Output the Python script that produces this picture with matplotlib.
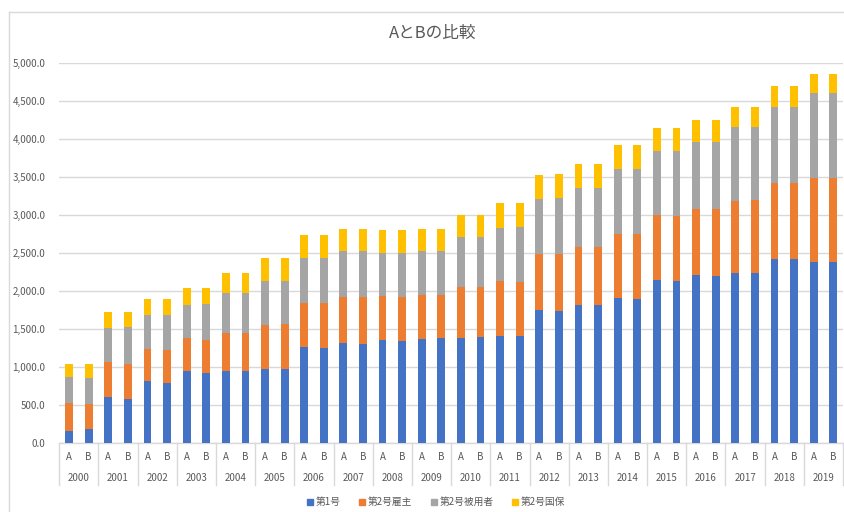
import matplotlib.pyplot as plt
import numpy as np
from matplotlib.lines import Line2D
from matplotlib.ticker import FuncFormatter

plt.rcParams['font.family'] = ['Noto Sans CJK JP', 'DejaVu Sans']

years = [str(y) for y in range(2000, 2020)]
groups = ['A', 'B']

# 各年 A, B の順
dai1 = [162, 184, 609, 583, 820, 798, 951, 925, 951, 951,
        973, 973, 1264, 1251, 1321, 1312, 1361, 1347, 1369, 1382,
        1382, 1396, 1417, 1409, 1750, 1740, 1818, 1818, 1908, 1895,
        2154, 2140, 2211, 2202, 2237, 2237, 2425, 2425, 2390, 2390]
koyo = [364, 333, 461, 460, 421, 434, 439, 439, 505, 505,
        579, 592, 578, 591, 600, 609, 577, 574, 578, 565,
        670, 656, 718, 717, 739, 752, 767, 767, 851, 864,
        850, 856, 872, 881, 952, 969, 1000, 1000, 1106, 1106]
hiyo = [351, 338, 451, 487, 443, 452, 430, 474, 522, 522,
        588, 575, 590, 590, 603, 603, 560, 577, 577, 577,
        660, 660, 704, 726, 731, 732, 770, 770, 846, 846,
        838, 846, 886, 886, 969, 952, 1000, 1000, 1109, 1109]
kokuho = [166, 188, 207, 198, 211, 211, 224, 206, 267, 267,
          295, 295, 315, 315, 302, 302, 306, 306, 293, 293,
          294, 294, 320, 307, 315, 316, 325, 325, 316, 316,
          303, 303, 281, 281, 267, 267, 277, 277, 255, 255]

series = [('第1号', dai1, '#4472C4'),
          ('第2号雇主', koyo, '#ED7D31'),
          ('第2号被用者', hiyo, '#A5A5A5'),
          ('第2号国保', kokuho, '#FFC000')]

grid_c = '#D9D9D9'
text_c = '#595959'

fig = plt.figure(figsize=(8.45, 5.12), dpi=100)
ax = fig.add_axes([59.3 / 845, 1 - 443.3 / 512, (843 - 59.3) / 845, 380 / 512])

x = np.arange(len(dai1))
bottom = np.zeros(len(dai1))
for name, vals, color in series:
    ax.bar(x, vals, 0.4, bottom=bottom, color=color, label=name, zorder=3)
    bottom += np.array(vals)

ax.set_xlim(-0.5, len(dai1) - 0.5)
ax.set_ylim(0, 5000)
ax.set_yticks(np.arange(0, 5001, 500))
ax.yaxis.set_major_formatter(FuncFormatter(lambda v, p: f'{v:,.1f}'))
ax.tick_params(axis='y', length=0, pad=10, labelsize=7, labelcolor=text_c)
ax.set_xticks([])
ax.grid(axis='y', color=grid_c, linewidth=1, zorder=0)
for s in ['top', 'right', 'left']:
    ax.spines[s].set_visible(False)
ax.spines['bottom'].set_color(grid_c)
ax.spines['bottom'].set_linewidth(1)

# 二段の項目軸
trans = ax.get_xaxis_transform()
sep_bottom = -(485 - 443.3) / 380
for i in range(len(years) + 1):
    xs = 2 * i - 0.5
    ax.plot([xs, xs], [0, sep_bottom], color=grid_c, linewidth=1,
            transform=trans, clip_on=False)
for i, yr in enumerate(years):
    for j, g in enumerate(groups):
        ax.text(2 * i + j, -(457 - 443.3) / 380, g, transform=trans,
                ha='center', va='center', fontsize=7, color=text_c)
    ax.text(2 * i + 0.5, -(478 - 443.3) / 380, yr, transform=trans,
            ha='center', va='center', fontsize=7, color=text_c)

fig.text(433 / 845, 1 - 33 / 512, 'AとBの比較', ha='center', va='center',
         fontsize=12, color=text_c)

handles = [Line2D([], [], marker='s', linestyle='none', markersize=4,
                  markerfacecolor=c, markeredgecolor=c) for _, _, c in series]
fig.legend(handles, [n for n, _, _ in series], loc='center',
           bbox_to_anchor=(436 / 845, 1 - 502 / 512), ncol=4, frameon=False,
           fontsize=7, labelcolor=text_c, handlelength=0.6, handletextpad=0.3,
           columnspacing=1.9, borderaxespad=0)

# グラフエリアの枠
fig.add_artist(Line2D([9.3 / 845, 9.3 / 845], [0, 1 - 11.7 / 512],
                      color=grid_c, linewidth=1, transform=fig.transFigure))
fig.add_artist(Line2D([9.3 / 845, 1], [1 - 11.7 / 512, 1 - 11.7 / 512],
                      color=grid_c, linewidth=1, transform=fig.transFigure))

fig.savefig('out.png', dpi=100)
